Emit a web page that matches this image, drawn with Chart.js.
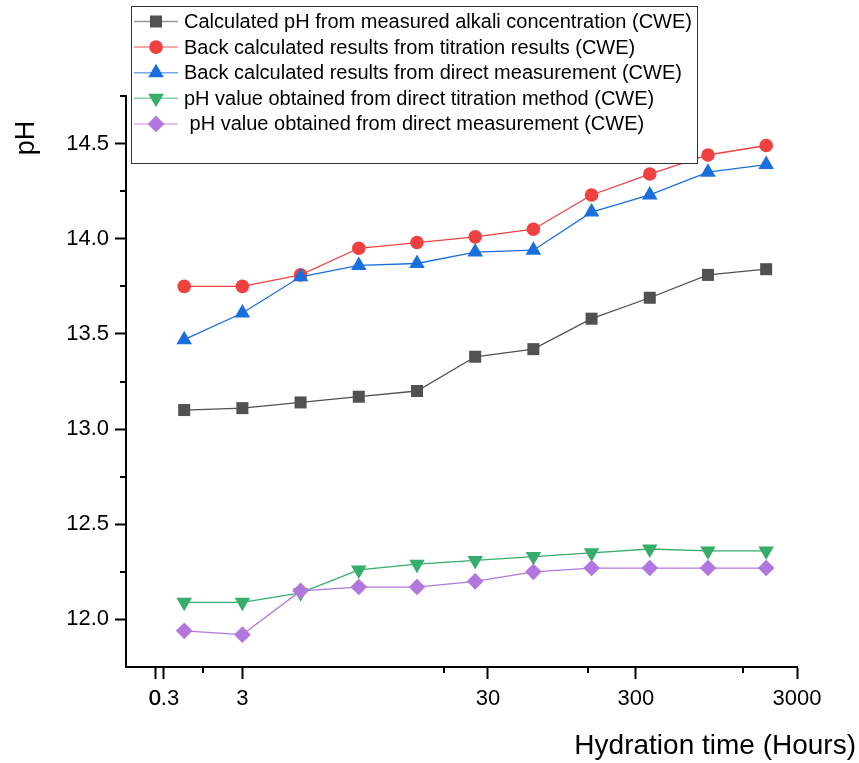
<!DOCTYPE html>
<html>
<head>
<meta charset="utf-8">
<title>pH vs hydration time</title>
<script src="https://cdn.jsdelivr.net/npm/chart.js@4.4.1/dist/chart.umd.min.js"></script>
<style>
  html, body { margin: 0; padding: 0; background: #fff; }
  #wrap { width: 859px; height: 763px; }
</style>
</head>
<body>
<div id="wrap"><canvas id="phChart" width="859" height="763"></canvas></div>
<script>
// readings in time order along the hydration axis
const samples = [1, 2, 3, 4, 5, 6, 7, 8, 9, 10, 11];

const calcAlkali      = [13.10, 13.11, 13.14, 13.17, 13.20, 13.38, 13.42, 13.58, 13.69, 13.81, 13.84];
const backTitration   = [13.75, 13.75, 13.81, 13.95, 13.98, 14.01, 14.05, 14.23, 14.34, 14.44, 14.49];
const backDirect      = [13.47, 13.61, 13.80, 13.86, 13.87, 13.93, 13.94, 14.14, 14.23, 14.35, 14.39];
const directTitration = [12.09, 12.09, 12.14, 12.26, 12.29, 12.31, 12.33, 12.35, 12.37, 12.36, 12.36];
const directMeasure   = [11.94, 11.92, 12.15, 12.17, 12.17, 12.20, 12.25, 12.27, 12.27, 12.27, 12.27];

const seriesNames = [
  'Calculated pH from measured alkali concentration (CWE)',
  'Back calculated results from titration results (CWE)',
  'Back calculated results from direct measurement (CWE)',
  'pH value obtained from direct titration method (CWE)',
  ' pH value obtained from direct measurement (CWE)'
];

// time axis ticks (hours) and where they sit along the axis
const xTickPos    = [0.5, 0.65, 2, 6.22, 8.76, 11.53];
const xTickLabels = ['0', '0.3', '3', '30', '300', '3000'];
const xMinorPos   = [1.32, 5.47, 7.94, 10.6];

const yTicks      = [12.0, 12.5, 13.0, 13.5, 14.0, 14.5];
const yMinorTicks = [12.25, 12.75, 13.25, 13.75, 14.25, 14.75];

const colors  = ['#515151', '#F14040', '#1A6FDF', '#37AD6B', '#B177DE'];
const markers = [
  { style: 'rect', r: 8.5, rot: 0 },
  { style: 'circle', r: 6.8, rot: 0 },
  { style: 'triangle', r: 9, rot: 0 },
  { style: 'triangle', r: 9, rot: 180 },
  { style: 'rectRot', r: 8.3, rot: 0 }
];

const FONT = "'Liberation Sans', Arial, sans-serif";

const allSeries = [calcAlkali, backTitration, backDirect, directTitration, directMeasure];

const datasets = allSeries.map((vals, i) => ({
  label: seriesNames[i],
  data: vals.map((v, k) => ({ x: samples[k], y: v })),
  borderColor: colors[i],
  backgroundColor: colors[i],
  borderWidth: 1.3,
  pointStyle: markers[i].style,
  pointRadius: markers[i].r,
  pointRotation: markers[i].rot,
  pointBackgroundColor: colors[i],
  pointBorderWidth: 0,
  pointHoverRadius: markers[i].r,
  tension: 0,
  clip: false,
  order: allSeries.length - i   // later series drawn on top
}));

// short unlabeled ticks between the labelled ones
const minorTicks = {
  id: 'minorTicks',
  afterDraw(chart) {
    const { ctx, scales: { x, y } } = chart;
    ctx.save();
    ctx.strokeStyle = '#000';
    ctx.lineWidth = 2;
    ctx.beginPath();
    xMinorPos.forEach(v => {
      const px = Math.round(x.getPixelForValue(v));
      ctx.moveTo(px, x.top);
      ctx.lineTo(px, x.top + 6);
    });
    yMinorTicks.forEach(v => {
      const py = Math.round(y.getPixelForValue(v));
      ctx.moveTo(y.right, py);
      ctx.lineTo(y.right - 6, py);
    });
    ctx.stroke();
    ctx.restore();
  }
};

// axis titles sit off-centre, so they are drawn here
const axisTitles = {
  id: 'axisTitles',
  afterDraw(chart) {
    const ctx = chart.ctx;
    ctx.save();
    ctx.fillStyle = '#000';
    ctx.font = '28px ' + FONT;
    ctx.textAlign = 'right';
    ctx.textBaseline = 'alphabetic';
    ctx.fillText('Hydration time (Hours)', 856, 754);
    ctx.translate(27, 138);
    ctx.rotate(-Math.PI / 2);
    ctx.textAlign = 'center';
    ctx.textBaseline = 'middle';
    ctx.font = '27px ' + FONT;
    ctx.fillText('pH', 0, 0);
    ctx.restore();
  }
};

function marker(ctx, ds, x, y) {
  if (Chart.helpers && Chart.helpers.drawPoint) {
    ctx.fillStyle = ds.pointBackgroundColor;
    Chart.helpers.drawPoint(ctx, {
      pointStyle: ds.pointStyle, radius: ds.pointRadius,
      rotation: ds.pointRotation, borderWidth: 0
    }, x, y);
  }
}

// boxed legend overlapping the top-left corner of the plot
const boxLegend = {
  id: 'boxLegend',
  afterDraw(chart) {
    const ctx = chart.ctx;
    ctx.save();
    ctx.fillStyle = '#fff';
    ctx.fillRect(131, 6, 567, 157);
    ctx.strokeStyle = '#333';
    ctx.lineWidth = 1;
    ctx.strokeRect(131.5, 6.5, 566, 157);
    chart.data.datasets.forEach((ds, i) => {
      const cy = 21.5 + i * 25.6;
      ctx.globalAlpha = 0.6;
      ctx.strokeStyle = ds.borderColor;
      ctx.lineWidth = 1.5;
      ctx.beginPath();
      ctx.moveTo(134, cy);
      ctx.lineTo(178, cy);
      ctx.stroke();
      ctx.globalAlpha = 1;
      marker(ctx, ds, 156, cy);
      ctx.fillStyle = '#000';
      ctx.font = '20px ' + FONT;
      ctx.textAlign = 'left';
      ctx.textBaseline = 'middle';
      ctx.fillText(ds.label, 184, cy + 1);
    });
    ctx.restore();
  }
};

new Chart(document.getElementById('phChart'), {
  type: 'line',
  data: { datasets },
  options: {
    responsive: false,
    animation: false,
    devicePixelRatio: 1,
    layout: { padding: { top: 96, right: 62, bottom: 0, left: 0 } },
    plugins: { legend: { display: false }, tooltip: { enabled: false } },
    scales: {
      x: {
        type: 'linear',
        min: 0,
        max: 11.53,
        afterBuildTicks: s => { s.ticks = xTickPos.map(v => ({ value: v })); },
        afterFit: s => { s.height = 96; },
        ticks: {
          autoSkip: false,
          maxRotation: 0,
          minRotation: 0,
          padding: 7,
          color: '#000',
          font: { family: FONT, size: 22 },
          callback: (v, i) => xTickLabels[i]
        },
        grid: { drawOnChartArea: false, tickLength: 12, tickWidth: 2, tickColor: '#000', color: '#000' },
        border: { color: '#000', width: 2 }
      },
      y: {
        type: 'linear',
        min: 11.75,
        max: 14.75,
        afterBuildTicks: s => { s.ticks = yTicks.map(v => ({ value: v })); },
        afterFit: s => { s.width = 126; },
        ticks: {
          padding: 6,
          color: '#000',
          font: { family: FONT, size: 22 },
          callback: v => v.toFixed(1)
        },
        grid: { drawOnChartArea: false, tickLength: 11, tickWidth: 2, tickColor: '#000', color: '#000' },
        border: { color: '#000', width: 2 }
      }
    }
  },
  plugins: [minorTicks, axisTitles, boxLegend]
});
</script>
</body>
</html>
